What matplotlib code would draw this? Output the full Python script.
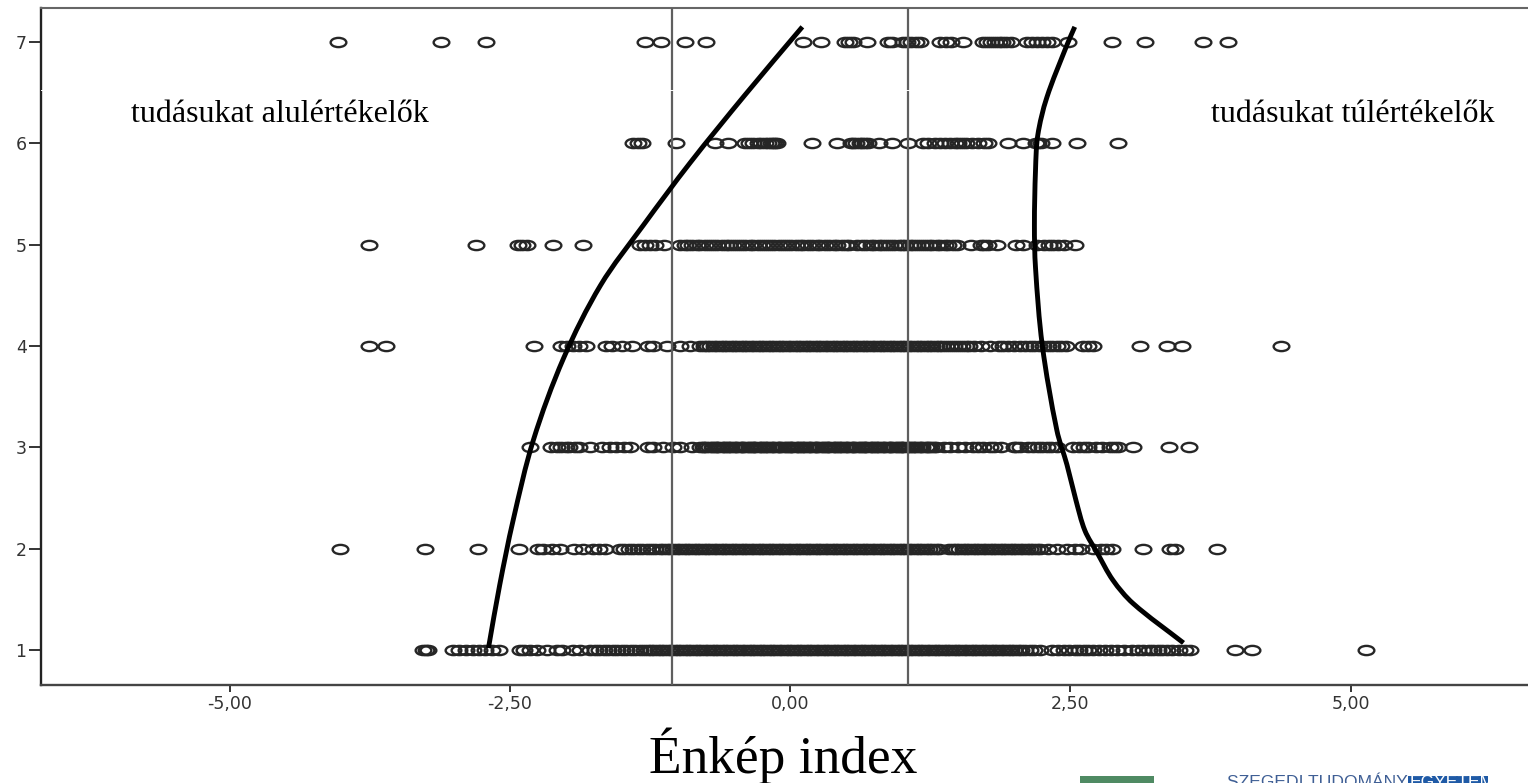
import matplotlib
matplotlib.use("Agg")
import matplotlib.pyplot as plt
from matplotlib.path import Path
from matplotlib.patches import PathPatch, Rectangle
from matplotlib.transforms import Affine2D

W, H = 1528, 783

row_levels = [7, 6, 5, 4, 3, 2, 1]
x_ticks = [-5, -2.5, 0, 2.5, 5]
x_tick_labels = ["-5,00", "-2,50", "0,00", "2,50", "5,00"]
band_limits = [-1.05, 1.05]

row7 = [-4.03,-3.11,-2.71,-1.29,-1.15,-0.94,-0.75,0.12,0.28,0.49,0.53,0.56,0.69,0.87,0.91,1.01,1.04,1.08,1.12,1.16,
        1.34,1.39,1.44,1.54,1.72,1.76,1.79,1.83,1.86,1.89,1.93,1.97,2.11,2.16,2.20,2.25,2.29,2.34,2.48,2.87,3.17,3.68,3.91]
row6 = [-1.40,-1.36,-1.32,-1.02,-0.67,-0.55,-0.40,-0.37,-0.33,-0.29,-0.26,-0.22,-0.20,-0.17,-0.15,-0.13,-0.12,0.20,0.42,
        0.54,0.56,0.59,0.62,0.64,0.67,0.70,0.79,0.91,1.05,1.19,1.23,1.29,1.34,1.38,1.43,1.47,1.50,1.53,1.57,1.62,1.68,1.73,1.77,
        1.94,2.08,2.19,2.21,2.24,2.34,2.56,2.93]
row5 = [-3.76,-2.80,-2.43,-2.39,-2.35,-2.11,-1.85,-1.34,-1.29,-1.25,-1.20,-1.12,
        -0.98,-0.94,-0.91,-0.87,-0.83,-0.80,-0.76,-0.72,-0.69,-0.65,-0.61,-0.57,-0.54,-0.51,-0.47,-0.44,-0.40,-0.36,-0.33,-0.29,
        -0.25,-0.21,-0.18,-0.14,-0.10,-0.06,-0.03,0.01,0.05,0.09,0.12,0.16,0.20,0.24,0.27,0.31,0.35,0.39,0.42,0.46,0.50,0.53,
        0.60,0.64,0.68,0.72,0.75,0.79,0.82,0.86,0.89,0.93,0.97,1.00,1.03,1.07,1.10,1.13,1.17,1.20,1.24,1.27,1.31,1.34,1.38,1.41,1.45,1.49,
        1.61,1.70,1.73,1.77,1.85,2.02,2.08,2.20,2.27,2.31,2.35,2.39,2.44,2.54]
row4 = [-3.76,-3.60,-2.28,-2.04,-1.99,-1.94,-1.88,-1.82,-1.64,-1.59,-1.50,-1.41,-1.27,-1.22,-1.10,-0.98,-0.89,
        -0.80,-0.77,-0.74,-0.71,-0.68,-0.65,-0.62,-0.59,-0.56,-0.53,-0.50,-0.47,-0.44,-0.41,-0.38,-0.35,-0.32,-0.29,-0.26,-0.23,-0.20,
        -0.17,-0.14,-0.11,-0.08,-0.05,-0.02,0.01,0.04,0.07,0.10,0.13,0.16,0.19,0.22,0.25,0.28,0.31,0.34,0.37,0.40,0.43,0.46,0.49,0.52,
        0.55,0.58,0.61,0.64,0.67,0.70,0.73,0.76,0.79,0.82,0.85,0.88,0.91,0.94,0.97,1.00,1.03,1.06,1.09,1.12,1.15,1.18,1.21,1.24,1.27,1.30,
        1.33,1.36,1.39,1.43,1.46,1.50,1.53,1.57,1.60,1.64,1.70,1.78,1.86,1.90,1.94,2.00,2.05,2.10,2.14,2.18,2.22,2.26,2.30,2.34,2.38,2.42,2.46,
        2.61,2.66,2.70,3.12,3.36,3.50,4.38]
row3 = [-2.32,-2.13,-2.08,-2.04,-2.00,-1.97,-1.92,-1.88,-1.78,-1.68,-1.61,-1.55,-1.48,-1.43,-1.27,-1.22,-1.13,-1.04,-0.98,-0.87,
        -0.80,-0.77,-0.75,-0.72,-0.69,-0.66,-0.64,-0.61,-0.58,-0.55,-0.53,-0.50,-0.47,-0.44,-0.42,-0.39,-0.36,-0.33,-0.31,-0.28,-0.25,-0.22,
        -0.20,-0.17,-0.14,-0.11,-0.09,-0.06,-0.03,0.00,0.02,0.05,0.08,0.11,0.13,0.16,0.19,0.22,0.24,0.27,0.30,0.33,0.35,0.38,0.41,0.44,0.46,
        0.49,0.52,0.55,0.57,0.60,0.63,0.66,0.68,0.71,0.74,0.77,0.79,0.82,0.85,0.88,0.90,0.93,0.96,0.99,1.01,1.04,1.07,1.10,1.12,1.15,1.18,1.21,1.24,1.28,
        -0.78,-0.70,-0.65,-0.59,-0.54,-0.48,-0.43,-0.37,-0.32,-0.26,-0.21,-0.15,-0.10,-0.04,0.01,0.07,0.12,0.18,0.23,0.29,0.34,0.40,0.45,0.51,0.56,0.62,0.67,
        0.73,0.78,0.84,0.89,0.95,1.00,1.06,1.11,1.17,1.22,1.26,1.30,
        1.37,1.43,1.50,1.56,1.63,1.68,1.72,1.78,1.82,1.88,2.00,2.02,2.05,2.12,2.17,2.21,2.25,2.29,2.33,2.38,2.52,2.58,2.62,2.66,2.73,2.78,2.85,2.89,2.93,3.06,3.38,3.56]
row2 = [-4.01,-3.26,-2.78,-2.42,-2.25,-2.20,-2.12,-2.05,-1.93,-1.85,-1.76,-1.70,-1.65,
        -1.52,-1.48,-1.44,-1.40,-1.36,-1.32,-1.28,-1.24,-1.20,-1.16,-1.13,-1.10,-1.07,-1.04,-1.01,-0.98,-0.95,-0.92,-0.89,-0.86,-0.83,-0.80,
        -0.77,-0.74,-0.71,-0.68,-0.65,-0.62,-0.59,-0.56,-0.53,-0.50,-0.47,-0.44,-0.41,-0.38,-0.35,-0.32,-0.29,-0.26,-0.23,-0.20,-0.17,-0.14,
        -0.11,-0.08,-0.05,-0.02,0.01,0.04,0.07,0.10,0.13,0.16,0.19,0.22,0.25,0.28,0.31,0.34,0.37,0.40,0.43,0.46,0.49,0.52,0.55,0.58,0.61,0.64,
        0.67,0.70,0.73,0.76,0.79,0.82,0.85,0.88,0.91,0.94,0.97,1.00,1.03,1.06,1.09,1.12,1.15,1.18,1.21,1.24,1.27,1.30,1.33,
        1.42,1.45,1.48,1.51,1.54,1.57,1.60,1.63,1.66,1.69,1.72,1.75,1.78,1.81,1.84,1.87,1.90,1.93,1.96,1.99,2.02,2.05,2.08,2.11,2.14,2.17,2.20,2.23,
        2.30,2.38,2.47,2.54,2.60,2.70,2.77,2.82,2.87,3.15,3.39,3.43,3.81]
row1 = [-3.27,-3.25,-3.23,-3.01,-2.95,-2.89,-2.83,-2.77,-2.72,-2.66,-2.60,-2.41,-2.37,-2.32,-2.26,-2.17,-2.08,-2.03,-1.94,-1.87,-1.78,
        -1.74,-1.70,-1.66,-1.62,-1.58,-1.54,-1.50,-1.46,-1.42,-1.38,-1.34,-1.30,-1.27,-1.24,-1.21,-1.18,-1.15,-1.12,-1.09,-1.06,-1.03,-1.00,
        -0.97,-0.94,-0.91,-0.88,-0.85,-0.82,-0.79,-0.76,-0.73,-0.70,-0.67,-0.64,-0.61,-0.58,-0.55,-0.52,-0.49,-0.46,-0.43,-0.40,-0.37,-0.34,
        -0.31,-0.28,-0.25,-0.22,-0.19,-0.16,-0.13,-0.10,-0.07,-0.04,-0.01,0.02,0.05,0.08,0.11,0.14,0.17,0.20,0.23,0.26,0.29,0.32,0.35,0.38,
        0.41,0.44,0.47,0.50,0.53,0.56,0.59,0.62,0.65,0.68,0.71,0.74,0.77,0.80,0.83,0.86,0.89,0.92,0.95,0.98,1.01,1.04,1.07,1.10,1.13,1.16,
        1.19,1.22,1.25,1.28,1.31,1.34,1.37,1.40,1.43,1.46,1.49,1.52,1.55,1.58,1.61,1.64,1.67,1.70,1.73,1.76,1.79,1.82,1.85,1.88,1.91,1.94,
        1.97,2.00,2.03,2.06,2.10,2.14,2.18,2.23,2.34,2.39,2.44,2.49,2.54,2.58,2.62,2.66,2.70,2.76,2.81,2.86,2.92,2.98,3.05,3.10,3.15,3.20,
        3.24,3.28,3.32,3.36,3.41,3.47,3.52,3.57,3.97,4.12,5.14]
rows = [row7, row6, row5, row4, row3, row2, row1]

left_curve_x = [-2.69,-2.59,-2.47,-2.29,-2.02,-1.69,-1.31,-0.89,-0.40,0.11]
left_curve_y = [1.02,1.64,2.28,3.07,3.88,4.60,5.19,5.81,6.48,7.15]
right_curve_x = [2.54,2.47,2.29,2.21,2.19,2.18,2.19,2.25,2.38,2.47,2.55,2.63,2.74,2.88,3.06,3.51]
right_curve_y = [7.15,6.97,6.45,6.08,5.74,5.19,4.77,4.01,3.17,2.83,2.48,2.18,1.96,1.69,1.46,1.07]
seam_level = 6.53


def smooth_path(xs, ys):
    pts = list(zip(xs, ys))
    n = len(pts)
    dist = [((pts[i + 1][0] - pts[i][0]) ** 2 * 12566 + (pts[i + 1][1] - pts[i][1]) ** 2 * 10268) ** 0.5
            for i in range(n - 1)]
    tang = []
    for i in range(n):
        a = max(i - 1, 0)
        b = min(i + 1, n - 1)
        span = sum(dist[a:b])
        tang.append(((pts[b][0] - pts[a][0]) / span, (pts[b][1] - pts[a][1]) / span))
    verts = [pts[0]]
    codes = [Path.MOVETO]
    for i in range(n - 1):
        d = dist[i] / 3
        c1 = (pts[i][0] + tang[i][0] * d, pts[i][1] + tang[i][1] * d)
        c2 = (pts[i + 1][0] - tang[i + 1][0] * d, pts[i + 1][1] - tang[i + 1][1] * d)
        verts += [c1, c2, pts[i + 1]]
        codes += [Path.CURVE4] * 3
    return Path(verts, codes)


fig = plt.figure(figsize=(W / 100, H / 100), dpi=100, facecolor="white")
ax = fig.add_axes([40.5 / W, 1 - 685 / H, (W - 40.5) / W, (685 - 8) / H])
ax.set_xlim(-6.686, 6.583)
ax.set_ylim(0.655, 7.336)

ring = Path.unit_circle().transformed(Affine2D().scale(1.7, 1.0))
for lvl, vals in zip(row_levels, rows):
    ax.plot(vals, [lvl] * len(vals), ls="none", marker=ring, ms=11.3,
            mfc="none", mec="#262626", mew=1.7, zorder=2)

for v in band_limits:
    ax.axvline(v, color="#5f5f5f", lw=1.6, zorder=3)

ax.axhline(seam_level, color="white", lw=0.7, zorder=3.5, clip_on=False)

for xs, ys in ((left_curve_x, left_curve_y), (right_curve_x, right_curve_y)):
    ax.add_patch(PathPatch(smooth_path(xs, ys), fc="none", ec="black", lw=3.5,
                           capstyle="butt", zorder=4))

ax.set_xticks(x_ticks)
ax.set_xticklabels(x_tick_labels)
ax.set_yticks(row_levels)
ax.set_yticklabels([str(v) for v in row_levels])
ax.tick_params(axis="x", length=5, width=1.4, color="#333333", pad=2.5,
               labelsize=12.5, labelcolor="#333333")
ax.tick_params(axis="y", length=9, width=1.4, color="#333333", pad=1,
               labelsize=12.5, labelcolor="#333333")
for lab in ax.get_xticklabels() + ax.get_yticklabels():
    lab.set_family("DejaVu Sans")

ax.spines["right"].set_visible(False)
ax.spines["left"].set_linewidth(1.7)
ax.spines["left"].set_color("#222222")
ax.spines["bottom"].set_linewidth(1.7)
ax.spines["bottom"].set_color("#444444")
ax.spines["top"].set_linewidth(1.5)
ax.spines["top"].set_color("#666666")


def px_text(x, y, s, **kw):
    fig.text(x / W, 1 - y / H, s, **kw)


serif = "Liberation Serif"
px_text(279.5, 122.5, "tudásukat alulértékelők", family=serif, fontsize=23, ha="center", va="baseline", color="black")
px_text(1352.5, 122.5, "tudásukat túlértékelők", family=serif, fontsize=23, ha="center", va="baseline", color="black")
px_text(783, 773, "Énkép index", family=serif, fontsize=38.4, ha="center", va="baseline", color="black")

fig.add_artist(Rectangle((1080 / W, 0), 74 / W, 7 / H, transform=fig.transFigure, fc="#4f8a63", ec="none"))
fig.add_artist(Rectangle((1408 / W, 0), 80 / W, 7 / H, transform=fig.transFigure, fc="#1f5aa6", ec="none"))
px_text(1227, 775, "SZEGEDI TUDOMÁNY", family="Liberation Sans", fontsize=12.6, ha="left", va="top", color="#3f5f95")
px_text(1410, 775, "EGYETEM", family="Liberation Sans", fontsize=12.6, ha="left", va="top", color="white")

fig.savefig("out.png", dpi=100)
